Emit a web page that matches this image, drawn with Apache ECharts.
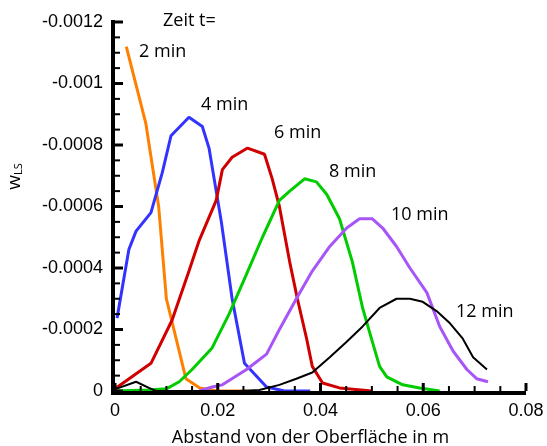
<!DOCTYPE html>
<html><head><meta charset="utf-8">
<script src="https://cdn.jsdelivr.net/npm/echarts@6/dist/echarts.min.js"></script>
<style>html,body{margin:0;padding:0;background:#fff}#c{width:547px;height:446px}</style>
</head><body><div id="c"></div>
<script>
const xTicks = ['0','0.02','0.04','0.06','0.08'];
const yTicks = ['-0.0012','-0.001','-0.0008','-0.0006','-0.0004','-0.0002','0'];
const seriesNames = ['2 min','4 min','6 min','8 min','10 min','12 min'];
const s2 = [[0.0022,-0.00112],[0.0060,-0.00087],[0.0085,-0.00060],[0.0100,-0.00030],[0.0138,-0.00004],[0.0165,-0.00001],[0.0200,0],[0.0256,0]];
const s4 = [[0.0004,-0.000237],[0.0027,-0.00046],[0.0041,-0.00052],[0.0070,-0.00058],[0.0092,-0.00071],[0.0109,-0.00083],[0.0144,-0.00089],[0.0170,-0.00086],[0.0183,-0.00079],[0.0197,-0.00065],[0.0207,-0.00055],[0.0228,-0.00030],[0.0252,-0.00009],[0.0295,-0.000013],[0.0330,0],[0.0380,0]];
const s6 = [[0.0002,-0.00001],[0.0070,-0.00009],[0.0111,-0.00023],[0.0144,-0.00039],[0.0164,-0.00049],[0.0197,-0.00062],[0.0209,-0.00072],[0.0228,-0.00076],[0.0258,-0.00079],[0.0291,-0.00077],[0.0306,-0.00069],[0.0320,-0.00060],[0.0340,-0.00042],[0.0355,-0.00030],[0.0373,-0.00017],[0.0384,-0.00008],[0.0404,-0.000026],[0.0437,-0.00001],[0.0500,0]];
const s8 = [[0.0000,0],[0.0066,-0.000003],[0.0100,-0.000007],[0.0125,-0.00003],[0.0150,-0.00007],[0.0189,-0.00014],[0.0222,-0.00025],[0.0256,-0.00038],[0.0287,-0.00050],[0.0320,-0.00062],[0.0340,-0.00065],[0.0369,-0.00069],[0.0392,-0.00068],[0.0412,-0.00064],[0.0437,-0.00056],[0.0462,-0.00042],[0.0482,-0.00027],[0.0501,-0.00016],[0.0515,-0.00008],[0.0529,-0.000046],[0.0560,-0.00002],[0.0593,-0.00001],[0.0632,0]];
const s10 = [[0.0164,0],[0.0189,-0.000013],[0.0209,-0.00002],[0.0256,-0.00007],[0.0295,-0.00012],[0.0320,-0.00020],[0.0353,-0.00030],[0.0384,-0.00039],[0.0418,-0.00047],[0.0451,-0.00053],[0.0476,-0.00056],[0.0501,-0.00056],[0.0521,-0.00053],[0.0548,-0.00047],[0.0574,-0.00040],[0.0607,-0.00032],[0.0632,-0.00021],[0.0658,-0.00013],[0.0685,-0.00007],[0.0704,-0.00004],[0.0726,-0.00003]];
const s12 = [[0.0002,-0.000007],[0.0041,-0.00003],[0.0066,-0.00001],[0.0080,0],[0.0240,0],[0.0281,-0.000003],[0.0320,-0.00002],[0.0353,-0.00004],[0.0384,-0.00006],[0.0418,-0.00011],[0.0451,-0.00016],[0.0482,-0.00021],[0.0515,-0.00027],[0.0548,-0.00030],[0.0574,-0.00030],[0.0599,-0.00029],[0.0626,-0.00026],[0.0652,-0.00022],[0.0677,-0.00017],[0.0697,-0.00011],[0.0724,-0.00007]];
const seriesData = [s2,s4,s6,s8,s10,s12];
const colors = ['#FF8000','#3333FF','#D00000','#00CC00','#A855F7','#000000'];
const widths = [3,3,3,3,3,2];

const X_MIN = 0, X_MAX = 0.08, X_STEP = 0.02;
const Y_MIN = -0.0012, Y_MAX = 0, Y_STEP = 0.0002;

const chart = echarts.init(document.getElementById('c'));
const fmtX = v => { const i = Math.round(v/X_STEP); return xTicks[i] ?? ''; };
const fmtY = v => { const i = Math.round((v-Y_MIN)/Y_STEP); return yTicks[i] ?? ''; };
const annFont = '"Open Sans", sans-serif';
const ann = (txt, left, top) => ({type:'text', left, top, z:50, style:{text:txt, font:'18px ' + annFont, fill:'#000'}});
const labelFont = '"Liberation Sans", Arial, sans-serif';
chart.setOption({
  animation:false,
  grid:{left:115, right:21, top:22, bottom:55, outerBoundsMode:'none'},
  xAxis:{type:'value', min:X_MIN, max:X_MAX, interval:X_STEP,
    axisLine:{show:false}, axisTick:{show:false}, splitLine:{show:false},
    axisLabel:{formatter:fmtX, color:'#000', fontSize:18, fontFamily:labelFont, margin:11},
    name:'Abstand von der Oberfläche in m', nameLocation:'middle', nameGap:38,
    nameTextStyle:{color:'#000', fontSize:18, fontFamily:annFont, padding:[0,20,0,0]}
  },
  yAxis:{type:'value', min:Y_MIN, max:Y_MAX, interval:Y_STEP, inverse:true,
    axisLine:{show:false}, axisTick:{show:false}, splitLine:{show:false},
    axisLabel:{formatter:fmtY, color:'#000', fontSize:18, fontFamily:labelFont, margin:12},
    name:'{a|w}{b|LS}', nameLocation:'middle', nameGap:91, nameRotate:90,
    nameTextStyle:{color:'#000', padding:[0,0,0,60], rich:{a:{fontSize:19, fontFamily:annFont, color:'#000'}, b:{fontSize:11, fontFamily:annFont, color:'#000', padding:[8,0,0,0]}}}
  },
  series: seriesData.map((d,i)=>({type:'line', name:seriesNames[i], data:d, showSymbol:false, symbol:'none',
    lineStyle:{color:colors[i], width:widths[i]}, itemStyle:{color:colors[i]}})),
  graphic:[]
});

// axis lines and ticks placed through the chart's own scales
const P = (x,y) => chart.convertToPixel({gridIndex:0}, [x,y]);
const g = [];
const line = (x1,y1,x2,y2,w) => g.push({type:'line', z:40, shape:{x1,y1,x2,y2}, style:{stroke:'#000', lineWidth:w}});
const o = P(X_MIN, Y_MAX), xe = P(X_MAX, Y_MAX), ye = P(X_MIN, Y_MIN);
line(o[0], o[1]+2, xe[0], xe[1]+2, 4);
line(o[0]-2, o[1]+4, ye[0]-2, ye[1]-2, 4);
for (let k = 0; k <= Math.round((X_MAX-X_MIN)/X_STEP*4); k++) {
  const p = P(X_MIN + k*X_STEP/4, Y_MAX);
  const major = k % 4 === 0;
  line(p[0], p[1], p[0], p[1] - (major ? 8 : 5), major ? 3 : 2);
}
for (let k = 0; k <= Math.round((Y_MAX-Y_MIN)/Y_STEP*4); k++) {
  const p = P(X_MIN, Y_MIN + k*Y_STEP/4);
  const major = k % 4 === 0;
  line(p[0]-2, p[1], p[0] + (major ? 8 : 5), p[1], major ? 3 : 2);
}
g.push(ann('Zeit t=', 163, 12));
g.push(ann(seriesNames[0], 139, 43));
g.push(ann(seriesNames[1], 201, 96));
g.push(ann(seriesNames[2], 274, 124));
g.push(ann(seriesNames[3], 329, 163));
g.push(ann(seriesNames[4], 391, 206));
g.push(ann(seriesNames[5], 456, 303));
chart.setOption({graphic:g});
</script></body></html>
